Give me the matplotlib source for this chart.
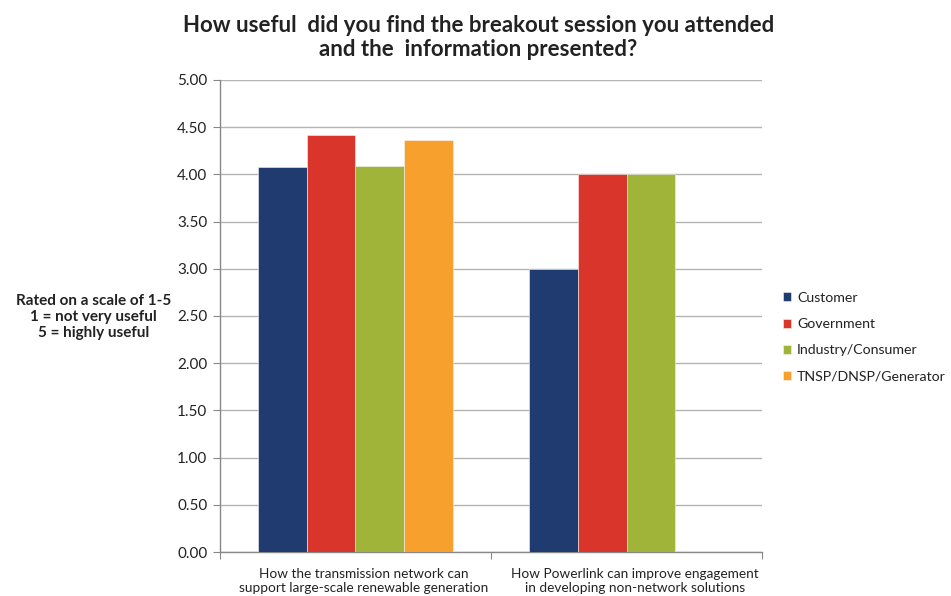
import numpy as np
import matplotlib.pyplot as plt

plt.rcParams["font.family"] = ["Lato", "DejaVu Sans"]

categories = [
    "How the transmission network can\nsupport large-scale renewable generation",
    "How Powerlink can improve engagement\nin developing non-network solutions",
]
groups = ["Customer", "Government", "Industry/Consumer", "TNSP/DNSP/Generator"]
customer = [4.08, 3.00]
government = [4.42, 4.00]
industry = [4.09, 4.00]
tnsp = [4.36, np.nan]
yticks = [0.0, 0.5, 1.0, 1.5, 2.0, 2.5, 3.0, 3.5, 4.0, 4.5, 5.0]

colors = ["#1F3B70", "#D9352B", "#A0B43A", "#F7A02E"]
series = [customer, government, industry, tnsp]

fig = plt.figure(figsize=(9.51, 5.96), dpi=100)
ax = fig.add_axes([0.2313, 0.0738, 0.570, 0.792])

x = np.arange(len(categories))
w = 0.18
for i, (vals, name, c) in enumerate(zip(series, groups, colors)):
    ax.bar(x + (i - 1.5) * w, vals, width=w, color=c, label=name,
           edgecolor="#f4f4f4", linewidth=0.4, zorder=3)

ax.set_xlim(-0.5, 1.5)
ax.set_ylim(0, 5)
ax.set_yticks(yticks)
ax.set_yticklabels([f"{t:.2f}" for t in yticks], fontsize=11, color="#222222")
ax.yaxis.grid(True, color="#b4b4b4", linewidth=1.0, zorder=0)

ax.set_xticks([-0.5, 0.5, 1.5])
ax.set_xticklabels([])
ax.tick_params(axis="x", length=5, color="#888888", direction="out")
ax.tick_params(axis="y", length=5, color="#888888", direction="out", pad=4)
for s in ["top", "right"]:
    ax.spines[s].set_visible(False)
for s in ["left", "bottom"]:
    ax.spines[s].set_color("#888888")
    ax.spines[s].set_linewidth(1.0)

for xi, lab in zip(x, categories):
    ax.text(xi + 0.03, -0.17, lab, ha="center", va="top", fontsize=9.8,
            color="#222222", linespacing=1.2, transform=ax.transData)

fig.text(0.503, 0.937,
         "How useful  did you find the breakout session you attended\nand the  information presented?",
         ha="center", va="center", fontsize=16, fontweight="bold",
         color="#222222", linespacing=1.2)

fig.text(0.098, 0.468, "Rated on a scale of 1-5\n1 = not very useful\n5 = highly useful",
         ha="center", va="center", fontsize=11, fontweight="bold",
         color="#222222", linespacing=1.15)

leg = ax.legend(loc="center left", bbox_to_anchor=(1.015, 0.455), frameon=False,
                fontsize=10.2, handlelength=0.6, handleheight=0.6,
                handletextpad=0.4, labelspacing=1.0)
for t in leg.get_texts():
    t.set_color("#222222")

fig.savefig("out.png", dpi=100, facecolor="white")
